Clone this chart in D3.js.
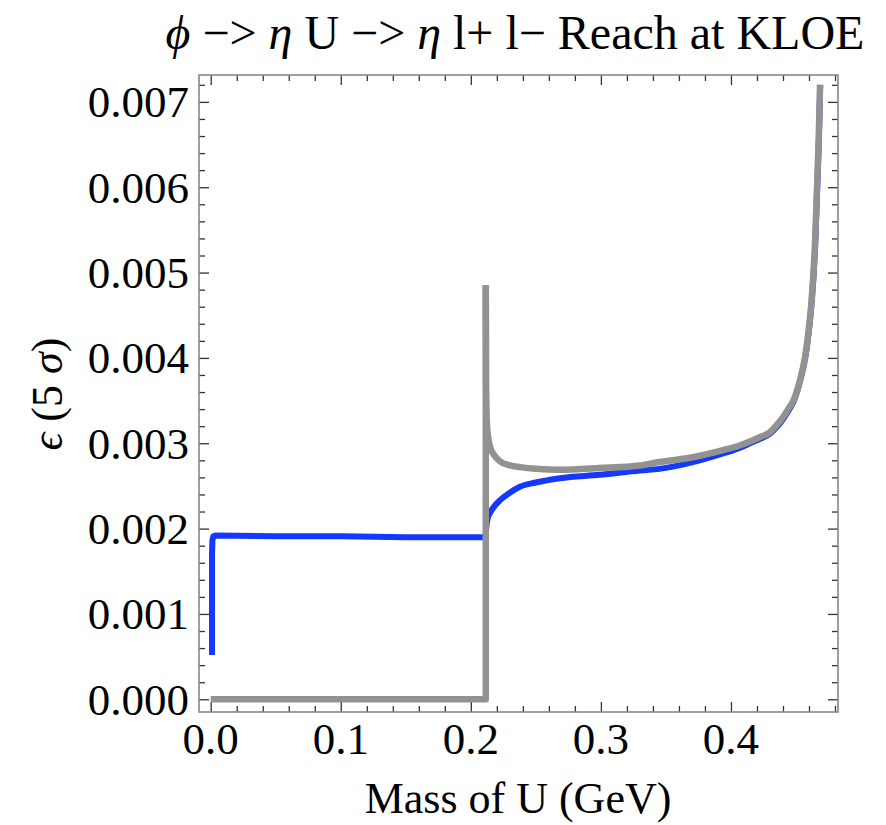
<!DOCTYPE html>
<meta charset="utf-8">
<head>
<script src="https://d3js.org/d3.v7.min.js"></script>
<style>
  body { margin: 0; background: #fff; }
  text { font-family: "Liberation Serif", "Times New Roman", Times, serif; fill: #000; }
</style>
</head>
<body>
<svg id="chart" width="886" height="825"></svg>
<script>
// values (x in GeV, eps in absolute units)
var grayX = [0, 0.2115, 0.2115, 0.2117, 0.2120, 0.2125, 0.2135, 0.215, 0.218, 0.2223, 0.23, 0.2377, 0.25,
             0.2685, 0.2992, 0.33, 0.345, 0.3685, 0.394, 0.405, 0.4146, 0.422, 0.43, 0.435, 0.4402, 0.444, 0.448,
             0.4531, 0.457, 0.4595, 0.462, 0.4645, 0.466, 0.4675, 0.4685];
var grayY = [0, 0, 0.00485, 0.0038, 0.0034, 0.0032, 0.00305, 0.00295, 0.00286, 0.00279, 0.00274, 0.00272, 0.0027,
             0.00269, 0.00271, 0.00274, 0.00278, 0.00283, 0.00292, 0.002965, 0.00302, 0.00307, 0.00313, 0.00321, 0.00331, 0.0034, 0.0035,
             0.00374, 0.00401, 0.00429, 0.00468, 0.0053, 0.00593, 0.0066, 0.0072];

var blueX = [0.001, 0.001, 0.0013, 0.002, 0.004, 0.05, 0.1, 0.15, 0.2, 0.2115, 0.2117, 0.212, 0.213, 0.2146, 0.218, 0.2223,
             0.23, 0.2377, 0.25, 0.2685, 0.2992, 0.33, 0.345, 0.3685, 0.394, 0.405, 0.4146, 0.422, 0.4302, 0.4352, 0.4404,
             0.4442, 0.4482, 0.4533, 0.4572, 0.4597, 0.4622, 0.4647, 0.4662, 0.4677, 0.4686];
var blueY = [0.00052, 0.0017, 0.00186, 0.00191, 0.00192, 0.00191, 0.00191, 0.0019, 0.0019, 0.0019, 0.00197, 0.00203, 0.00212, 0.00218, 0.00226, 0.00233,
             0.00242, 0.00249, 0.00254, 0.00259, 0.00263, 0.00268, 0.0027, 0.00277, 0.00288, 0.002935, 0.003, 0.00305, 0.003115, 0.00319, 0.00329,
             0.00338, 0.00349, 0.00374, 0.00401, 0.00429, 0.00468, 0.0053, 0.00593, 0.0066, 0.0072];

var xMajor = [0, 0.1, 0.2, 0.3, 0.4];
var yMajor = [0, 0.001, 0.002, 0.003, 0.004, 0.005, 0.006, 0.007];
var xLabels = ["0.0", "0.1", "0.2", "0.3", "0.4"];
var yLabels = ["0.000", "0.001", "0.002", "0.003", "0.004", "0.005", "0.006", "0.007"];

var svg = d3.select("#chart");
var L = 199, R = 838, T = 75, B = 712;

var x = d3.scaleLinear().domain([-0.009, 0.4823]).range([L, R]);
var y = d3.scaleLinear().domain([-0.000149, 0.007315]).range([B, T]);

// minor ticks
var xMinor = d3.range(0, 0.481, 0.02).filter(function(v) { return Math.abs(v * 10 - Math.round(v * 10)) > 1e-6; });
var yMinor = d3.range(0, 0.00731, 0.0002).filter(function(v) { return Math.abs(v * 1000 - Math.round(v * 1000)) > 1e-6; });

function frameAxis(axisFn, scale, major, minor, transform) {
  var gMaj = svg.append("g").attr("transform", transform)
    .call(axisFn(scale).tickValues(major).tickSize(-10).tickFormat(""));
  var gMin = svg.append("g").attr("transform", transform)
    .call(axisFn(scale).tickValues(minor).tickSize(-6).tickFormat(""));
  [gMaj, gMin].forEach(function(g) {
    g.select(".domain").remove();
    g.selectAll("line").attr("stroke", "#333").attr("stroke-width", 1.3);
  });
}
frameAxis(d3.axisBottom, x, xMajor, xMinor, "translate(0," + B + ")");
frameAxis(d3.axisTop, x, xMajor, xMinor, "translate(0," + T + ")");
frameAxis(d3.axisLeft, y, yMajor, yMinor, "translate(" + L + ",0)");
frameAxis(d3.axisRight, y, yMajor, yMinor, "translate(" + R + ",0)");

svg.append("rect").attr("x", L).attr("y", T).attr("width", R - L).attr("height", B - T)
  .attr("fill", "none").attr("stroke", "#888").attr("stroke-width", 1.6);

// tick labels
svg.selectAll(".xl").data(xMajor).enter().append("text")
  .attr("x", function(d) { return x(d); }).attr("y", 754)
  .attr("text-anchor", "middle").attr("font-size", 45)
  .text(function(d, i) { return xLabels[i]; });

svg.selectAll(".yl").data(yMajor).enter().append("text")
  .attr("x", 189).attr("y", function(d) { return y(d) + 15.5; })
  .attr("text-anchor", "end").attr("font-size", 45)
  .text(function(d, i) { return yLabels[i]; });

// curves: straight pieces where the picture has corners, smooth past threshold
var pts = function(xs, ys) { return xs.map(function(v, i) { return [v, ys[i]]; }); };
var straight = d3.line().x(function(d) { return x(d[0]); }).y(function(d) { return y(d[1]); });
var smooth = d3.line().x(function(d) { return x(d[0]); }).y(function(d) { return y(d[1]); })
  .curve(d3.curveMonotoneX);

var blue = pts(blueX, blueY);
var gray = pts(grayX, grayY);

function draw(d, gen, color, w) {
  svg.append("path").datum(d).attr("d", gen).attr("fill", "none").attr("stroke", color)
    .attr("stroke-width", w).attr("stroke-linejoin", "round");
}
draw(blue.slice(0, 10), straight, "#1438ff", 6);
draw(blue.slice(9), smooth, "#1438ff", 6);
draw(gray.slice(0, 3), straight, "#929292", 6.5);
draw(gray.slice(2), smooth, "#929292", 6.5);

// titles
var title = svg.append("text").attr("x", 515).attr("y", 49).attr("text-anchor", "middle").attr("font-size", 48);
title.append("tspan").attr("font-style", "italic").text("ϕ");
title.append("tspan").text(" −> ");
title.append("tspan").attr("font-style", "italic").text("η");
title.append("tspan").text(" U −> ");
title.append("tspan").attr("font-style", "italic").text("η");
title.append("tspan").text(" l+ l− Reach at KLOE");

svg.append("text").attr("x", 518).attr("y", 813).attr("text-anchor", "middle").attr("font-size", 44)
  .text("Mass of U (GeV)");

var yt = svg.append("text").attr("transform", "translate(62,394) rotate(-90)")
  .attr("text-anchor", "middle").attr("font-size", 44);
yt.append("tspan").attr("font-style", "italic").text("ϵ");
yt.append("tspan").text(" (5 ");
yt.append("tspan").attr("font-style", "italic").text("σ");
yt.append("tspan").text(")");
</script>
</body>
